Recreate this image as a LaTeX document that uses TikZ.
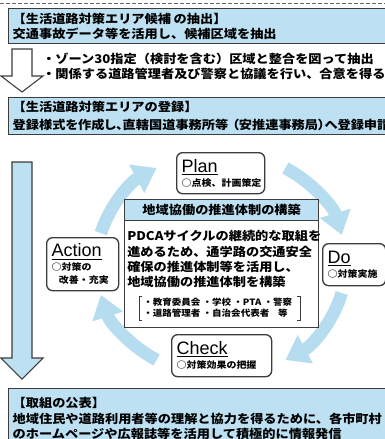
\documentclass[tikz,border=0pt]{standalone}
\usepackage{fontspec}
\setsansfont{Liberation Sans}
\newfontfamily\jpfont{Noto Sans CJK JP}[FakeStretch=1.1]
\newfontfamily\jppalt{Noto Sans CJK JP}[FakeStretch=1.1, RawFeature=+palt]
\usetikzlibrary{arrows.meta,positioning}

\definecolor{areablue}{RGB}{189,225,243}
\definecolor{cycleblue}{RGB}{182,220,240}
\definecolor{edgegray}{RGB}{60,60,60}

\newdimen\pxu \pxu=0.75pt
\newcommand{\jplarge}{\jpfont\bfseries\fontsize{9}{11.6}\selectfont}
\newcommand{\jpsmall}{\jpfont\bfseries\fontsize{6.8}{8.6}\selectfont}
\newcommand{\jptiny}{\jpfont\bfseries\fontsize{6.5}{8.2}\selectfont}
\newcommand{\pdcaword}[1]{\underline{\sffamily\mdseries\fontsize{13.5}{14}\selectfont #1}}

\tikzset{
  areabox/.style={draw=edgegray, fill=areablue, line width=1pt, anchor=north west,
    inner xsep=4\pxu, inner ysep=0pt, align=left, font=\jplarge, text width=420\pxu},
  pdcabox/.style={draw=edgegray, fill=white, line width=1pt, rounded corners=6\pxu,
    anchor=north west, align=left, inner xsep=5\pxu, inner ysep=0pt, font=\jpsmall},
  cyclearrow/.style={draw=cycleblue, line width=9.5pt,
    -{Triangle[width=23pt, length=17pt]}},
  blockarrow/.style={draw=edgegray, line width=0.8pt, line join=miter}
}

\begin{document}
\begin{tikzpicture}[x=0.75pt, y=-0.75pt]
  \useasboundingbox (0,0) rectangle (385,439);
  \clip (0,0) rectangle (385,439);

  \draw[edgegray!80, line width=0.6pt, dash pattern=on 3pt off 1.5pt] (0,3) -- (385,3);

  % candidate areas
  \node[areabox, minimum height=35\pxu] (candbox) at (8,8)
    {【生活道路対策エリア候補\hspace{2pt}の抽出】\\交通事故データ等を活用し、候補区域を抽出};
  \draw[blockarrow, fill=white] (12,49) -- (32,49) -- (32,76) -- (43,76) -- (22,92)
    -- (1,76) -- (12,76) -- cycle;
  \node[anchor=west, align=left, font=\jplarge, inner sep=0pt] (steps) at (42,66.5)
    {・ゾーン30指定（検討を含む）区域と整合を図って抽出\\・関係する道路管理者及び警察と協議を行い、合意を得る};

  % registration
  \node[areabox, minimum height=37\pxu] (regbox) at (8,97)
    {【生活道路対策エリアの登録】\\[1.5pt]{\jppalt 登録様式を作成し、直轄国道事務所等 （安推連事務局）へ登録申請}};
  \draw[blockarrow, fill=areablue] (12,162) -- (32,162) -- (32,358) -- (43,358) -- (22,379)
    -- (1,358) -- (12,358) -- cycle;

  % PDCA cycle
  \coordinate (hub) at (221,264);
  \draw[cyclearrow] (hub) ++(-164:125 and 112) arc[start angle=-164, end angle=-121, x radius=125, y radius=112];
  \draw[cyclearrow] (hub) ++(-59:125 and 112) arc[start angle=-59, end angle=-15, x radius=125, y radius=112];
  \draw[cyclearrow] (hub) ++(15:125 and 112) arc[start angle=15, end angle=59, x radius=125, y radius=112];
  \draw[cyclearrow] (hub) ++(121:125 and 112) arc[start angle=121, end angle=164, x radius=125, y radius=112];

  \node[draw=edgegray, line width=1pt, fill=white, anchor=north west, inner sep=0pt,
    minimum width=194\pxu, minimum height=128\pxu] (coop) at (124,199) {};
  \node[draw=edgegray, line width=1pt, fill=areablue, anchor=north west, inner sep=0pt,
    minimum width=194\pxu, minimum height=21\pxu, font=\jplarge] (coophead) at (coop.north west)
    {地域協働の推進体制の構築};
  \node[anchor=north west, align=left, font=\jplarge, inner sep=0pt] (coopbody) at (127,230)
    {PDCAサイクルの継続的な取組を\\進めるため、通学路の交通安全\\確保の推進体制等を活用し、\\地域協働の推進体制を構築};
  \node[anchor=north west, align=left, font=\jptiny, inner sep=0pt] (members) at (143,298)
    {・教育委員会\ ・学校\ ・PTA\ ・警察\\・道路管理者\ ・自治会代表者\quad 等};
  \draw[edgegray, line width=0.5pt] (142,296) -- (139,296) -- (139,320) -- (142,320);
  \draw[edgegray, line width=0.5pt] (297,296) -- (300,296) -- (300,320) -- (297,320);

  \node[pdcabox, text width=78\pxu, minimum height=41\pxu] (plan) at (176,152)
    {\pdcaword{Plan}\\[2pt]○点検、計画策定};
  \node[pdcabox, text width=62\pxu, minimum height=53\pxu] (action) at (46,237)
    {\pdcaword{Action}\\[2pt]○対策の\\[1pt]\hspace*{0.8em}改善・充実};
  \node[pdcabox, text width=53\pxu, minimum height=42\pxu] (do) at (322,243)
    {\pdcaword{Do}\\[2pt]○対策実施};
  \node[pdcabox, text width=90\pxu, minimum height=42\pxu] (check) at (171,334)
    {\pdcaword{Check}\\[2pt]○対策効果の把握};

  % publication
  \node[areabox, minimum height=60\pxu] (pubbox) at (8,388)
    {【取組の公表】\\地域住民や道路利用者等の理解と協力を得るために、各市町村\\のホームページや広報誌等を活用して積極的に情報発信};
\end{tikzpicture}
\end{document}
